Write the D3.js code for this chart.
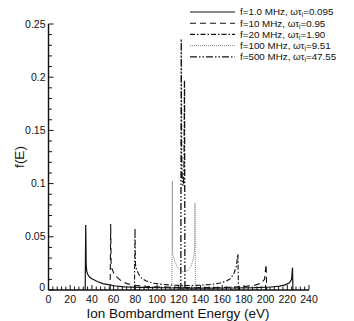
<!DOCTYPE html>
<html><head><meta charset="utf-8">
<script src="https://cdn.jsdelivr.net/npm/d3@7"></script>
<style>body{margin:0;background:#fff}svg{display:block}text{font-family:"Liberation Sans",Arial,sans-serif}</style>
</head><body>
<script>
const xTicks = [0,20,40,60,80,100,120,140,160,180,200,220,240];
const yTicks = [0,0.05,0.1,0.15,0.2,0.25];
const yTickLabels = ["0","0.05","0.1","0.15","0.2","0.25"];
const seriesNames = ["f=1.0 MHz, ωτ|=0.095","f=10 MHz, ωτ|=0.95","f=20 MHz, ωτ|=1.90","f=100 MHz, ωτ|=9.51","f=500 MHz, ωτ|=47.55"];
const s1MHz = [[33.8,0],[34.3,0.061],[34.7,0.024],[35.2,0.018],[36,0.015],[38,0.012],[40,0.0105],[45,0.008],[50,0.006],[55,0.005],[60,0.004],[70,0.003],[85,0.0025],[105,0.0021],[130,0.0018],[150,0.0018],[170,0.0019],[190,0.0022],[205,0.0028],[213,0.0036],[218,0.0048],[222,0.0068],[224,0.01],[224.8,0.021],[225.2,0]];
const s10MHz = [[56.8,0],[57.3,0.062],[57.7,0.024],[58.5,0.02],[60,0.016],[63,0.012],[67,0.0085],[72,0.006],[80,0.0045],[90,0.0035],[105,0.0027],[125,0.0022],[145,0.0022],[165,0.0025],[180,0.0032],[190,0.0045],[196,0.0065],[199,0.01],[200.5,0.024],[201,0]];
const s20MHz = [[79.2,0],[79.7,0.058],[80.1,0.024],[81,0.02],[83,0.015],[86,0.011],[90,0.0085],[96,0.0065],[105,0.0052],[115,0.0045],[128,0.0042],[140,0.0045],[150,0.0052],[158,0.0065],[164,0.0085],[168,0.011],[171,0.016],[173,0.022],[174.5,0.034],[175,0]];
const s100MHz = [[113.6,0],[114.1,0.1025],[114.4,0.036],[115,0.032],[116,0.028],[117.5,0.024],[119,0.021],[121,0.019],[123,0.0175],[125,0.017],[127,0.0175],[129,0.019],[131,0.022],[132.5,0.026],[134,0.032],[134.6,0.04],[135,0.082],[135.4,0]];
const s500MHz = [[121.9,0],[122.3,0.236],[122.6,0.13],[123.2,0.105],[123.8,0.098],[124.4,0.1],[124.9,0.12],[125.3,0.197],[125.7,0]];
const allSeries = [s1MHz,s10MHz,s20MHz,s100MHz,s500MHz];
const styles = [
  {dash:null,w:1.2,c:"#111"},
  {dash:"6,4",w:1.1,c:"#111"},
  {dash:"5,2,1.5,2",w:1.1,c:"#111"},
  {dash:"1,1",w:0.9,c:"#777"},
  {dash:"7,2,1.5,2,1.5,2",w:1.3,c:"#111"}
];

const W=354,H=321;
const svg=d3.select("body").append("svg").attr("width",W).attr("height",H);
const x=d3.scaleLinear().domain([0,240]).range([48.5,309]);
const y=d3.scaleLinear().domain([0,0.25]).range([290,24]);

// series
const line=d3.line().x(d=>x(d[0])).y(d=>y(d[1]));
allSeries.forEach((s,i)=>{
  svg.append("path").datum(s).attr("d",line).attr("fill","none")
    .attr("stroke",styles[i].c).attr("stroke-width",styles[i].w)
    .attr("stroke-dasharray",styles[i].dash);
});

// axes
const ax=svg.append("g").attr("stroke","#111").attr("stroke-width",1.4);
ax.append("line").attr("x1",x(0)).attr("x2",x(0)).attr("y1",y(0.25)).attr("y2",y(0));
ax.append("line").attr("x1",x(0)).attr("x2",x(240)).attr("y1",y(0)).attr("y2",y(0));
d3.range(0,0.2501,0.01).forEach(v=>{
  const major=Math.abs(v/0.05-Math.round(v/0.05))<1e-6;
  ax.append("line").attr("x1",x(0)).attr("x2",x(0)+(major?5:3.5)).attr("y1",y(v)).attr("y2",y(v)).attr("stroke-width",1);
});
d3.range(0,240.01,4).forEach(v=>{
  const major=v%20===0;
  ax.append("line").attr("x1",x(v)).attr("x2",x(v)).attr("y1",y(0)).attr("y2",y(0)-(major?5:3.5)).attr("stroke-width",1);
});
// tick labels
svg.append("g").selectAll("text").data(yTicks).join("text")
  .attr("x",d=>d===0?45:45.5).attr("y",d=>y(d)+(d===0?1:3.5)).attr("text-anchor","end")
  .attr("font-size",10.5).attr("fill","#111").text((d,i)=>yTickLabels[i]);
svg.append("g").selectAll("text").data(xTicks).join("text")
  .attr("x",d=>x(d)).attr("y",303).attr("text-anchor","middle")
  .attr("font-size",10.5).attr("fill","#111").text(d=>d);
// axis labels
svg.append("text").attr("x",178).attr("y",318).attr("text-anchor","middle").attr("font-size",13.5).attr("fill","#111").text("Ion Bombardment Energy (eV)");
svg.append("text").attr("transform","translate(24,157) rotate(-90)").attr("text-anchor","middle").attr("font-size",13.5).attr("fill","#111").text("f(E)");

// legend
const lg=svg.append("g");
seriesNames.forEach((n,i)=>{
  const ly=12+i*11.2;
  lg.append("line").attr("x1",190).attr("x2",235).attr("y1",ly).attr("y2",ly)
    .attr("stroke",styles[i].c).attr("stroke-width",styles[i].w).attr("stroke-dasharray",styles[i].dash);
  const parts=n.split("|");
  const t=lg.append("text").attr("x",240).attr("y",ly+3.3).attr("font-size",9.8).attr("fill","#111");
  t.append("tspan").text(parts[0]);
  t.append("tspan").attr("font-size",6.5).attr("dy",2).text("i");
  t.append("tspan").attr("dy",-2).text(parts[1]);
});
</script>
</body></html>
